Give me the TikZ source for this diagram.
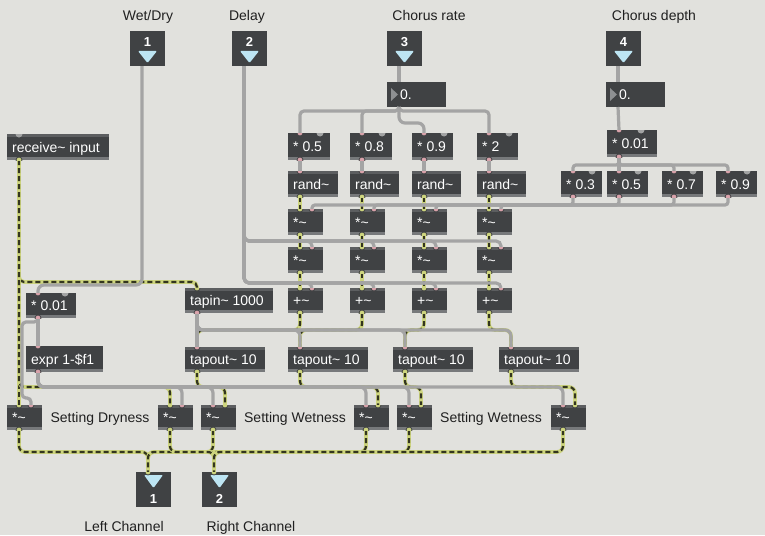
\documentclass[tikz,border=0pt]{standalone}
\usepackage{fontspec}
\setmainfont{Liberation Sans}
\usetikzlibrary{calc}
\definecolor{bgc}{HTML}{E1E1DD}
\definecolor{boxc}{HTML}{404244}
\definecolor{bandc}{HTML}{77797B}
\definecolor{topc}{HTML}{5C5E60}
\definecolor{cordc}{HTML}{A4A4A4}
\definecolor{sigbase}{HTML}{CDD47E}
\definecolor{sigdash}{HTML}{33351F}
\definecolor{tric}{HTML}{BDE5F3}
\definecolor{nbtric}{HTML}{8E9092}
\definecolor{pinkc}{HTML}{D9A3AB}
\definecolor{notchc}{HTML}{A2A3A3}
\definecolor{labc}{HTML}{202020}
\newcommand\mxtl{\textasciitilde}
% name x y w h text
\newcommand\mxobj[6]{%
  \node[objbox, minimum width=#4pt, minimum height=#5pt, anchor=north west] (#1) at (#2,#3) {};
  \fill[bandc] ($(#1.south west)+(0,-3)$) rectangle (#1.south east);
  \node[objtext] (#1-t) at ($(#1.west)+(5,5)$) {#6};
  \coordinate (#1-a) at ($(#1.north west)+(12,0)$);
  \coordinate (#1-b) at ($(#1.north west)+(24,0)$);
  \coordinate (#1-o) at ($(#1.south west)+(12,0)$);
}
\newcommand\mxsig[6]{%
  \mxobj{#1}{#2}{#3}{#4}{#5}{#6}%
  \fill[topc] (#1.north west) rectangle ($(#1.north east)+(0,3)$);
}
% name x y num
\newcommand\mxinlet[4]{%
  \node[objbox, minimum width=35pt, minimum height=35pt, anchor=north west] (#1) at (#2,#3) {};
  \node[numtext] (#1-n) at ($(#1.north)+(0,16)$) {#4};
  \fill[tric, rounded corners=1pt] ($(#1.north west)+(8,20)$) -- ($(#1.north east)+(-8,20)$) -- ($(#1.north)+(0,32)$) -- cycle;
  \coordinate (#1-o) at ($(#1.south west)+(12,0)$);
}
\newcommand\mxoutlet[4]{%
  \node[objbox, minimum width=35pt, minimum height=35pt, anchor=north west] (#1) at (#2,#3) {};
  \fill[tric, rounded corners=1pt] ($(#1.north west)+(8,3)$) -- ($(#1.north east)+(-8,3)$) -- ($(#1.north)+(0,16)$) -- cycle;
  \node[numtext] (#1-n) at ($(#1.north)+(0,31)$) {#4};
  \coordinate (#1-a) at ($(#1.north west)+(12,0)$);
}
\newcommand\mxnumbox[3]{%
  \node[objbox, minimum width=59pt, minimum height=25pt, anchor=north west] (#1) at (#2,#3) {};
  \fill[nbtric] ($(#1.north west)+(4,6)$) -- ($(#1.north west)+(4,19)$) -- ($(#1.north west)+(11,12.5)$) -- cycle;
  \node[objtext] (#1-t) at ($(#1.west)+(13,5)$) {0.};
  \coordinate (#1-a) at ($(#1.north west)+(12,0)$);
  \coordinate (#1-o) at ($(#1.south west)+(12,0)$);
}
% box, coordinate, colour
\newcommand\mxport[3]{%
  \begin{scope}
    \clip (#1.north west) rectangle (#1.south east);
    \filldraw[fill=#3, draw=boxc, line width=0.8pt] (#2) circle[radius=3pt];
  \end{scope}
}
% box, x offset
\newcommand\mxnotch[2]{%
  \begin{scope}
    \clip (#1.north west) rectangle (#1.south east);
    \fill[notchc] ($(#1.north west)+(#2,0)$) circle[radius=3.5pt];
  \end{scope}
}
\begin{document}
\begin{tikzpicture}[x=1pt,y=-1pt,
  objbox/.style={fill=boxc, inner sep=0pt, outer sep=0pt},
  objtext/.style={text=white, font=\fontsize{14}{16}\selectfont, inner sep=0pt, anchor=base west},
  numtext/.style={text=white, font=\bfseries\fontsize{13}{15}\selectfont, inner sep=0pt, anchor=base},
  lab/.style={text=labc, font=\fontsize{14}{16}\selectfont, inner sep=0pt, anchor=base},
  ctrl/.style={draw=cordc, line width=3.2pt, rounded corners=6pt},
  sig/.style={draw=sigdash, line width=2.2pt, dash pattern=on 5pt off 3pt, rounded corners=6pt,
              preaction={draw=sigbase, line width=3.8pt, solid}}]
\useasboundingbox (0,0) rectangle (765,535);
\fill[bgc] (0,0) rectangle (765,535);

% labels
\node[lab] (lwet) at (148,21) {Wet/Dry};
\node[lab] (ldel) at (247,21) {Delay};
\node[lab] (lrate) at (429,21) {Chorus rate};
\node[lab] (ldepth) at (654,21) {Chorus depth};
\node[lab] (ldry) at (100,422) {Setting Dryness};
\node[lab] (lwetA) at (295,422) {Setting Wetness};
\node[lab] (lwetB) at (491,422) {Setting Wetness};
\node[lab] (lleft) at (124,531) {Left Channel};
\node[lab] (lright) at (251,531) {Right Channel};

% objects
\mxinlet{in1}{130}{31}{1}
\mxinlet{in2}{232}{31}{2}
\mxinlet{in3}{387}{31}{3}
\mxinlet{in4}{606}{31}{4}
\mxnumbox{nb3}{387}{82}
\mxnumbox{nb4}{606}{82}
\mxsig{rcv}{7}{134}{102}{26}{receive\mxtl{} input}
\mxobj{q1}{288}{133}{42}{27}{* 0.5}
\mxobj{q2}{350}{133}{42}{27}{* 0.8}
\mxobj{q3}{412}{133}{41}{27}{* 0.9}
\mxobj{q4}{477}{133}{41}{27}{* 2}
\mxsig{rd1}{288}{171}{50}{26}{rand\mxtl}
\mxsig{rd2}{350}{171}{49}{26}{rand\mxtl}
\mxsig{rd3}{412}{171}{49}{26}{rand\mxtl}
\mxsig{rd4}{477}{171}{49}{26}{rand\mxtl}
\mxobj{dm}{607}{130}{50}{27}{* 0.01}
\mxobj{s1}{561}{171}{41}{26}{* 0.3}
\mxobj{s2}{607}{171}{41}{26}{* 0.5}
\mxobj{s3}{662}{171}{41}{26}{* 0.7}
\mxobj{s4}{716}{171}{41}{26}{* 0.9}
\mxsig{ra1}{288}{209}{35}{26}{*\mxtl}
\mxsig{ra2}{350}{209}{35}{26}{*\mxtl}
\mxsig{ra3}{412}{209}{35}{26}{*\mxtl}
\mxsig{ra4}{477}{209}{35}{26}{*\mxtl}
\mxsig{rb1}{288}{247}{35}{26}{*\mxtl}
\mxsig{rb2}{350}{247}{35}{26}{*\mxtl}
\mxsig{rb3}{412}{247}{35}{26}{*\mxtl}
\mxsig{rb4}{477}{247}{35}{26}{*\mxtl}
\mxsig{p1}{288}{288}{35}{25}{+\mxtl}
\mxsig{p2}{350}{288}{35}{25}{+\mxtl}
\mxsig{p3}{412}{288}{35}{25}{+\mxtl}
\mxsig{p4}{477}{288}{35}{25}{+\mxtl}
\mxsig{tin}{185}{288}{88}{25}{tapin\mxtl{} 1000}
\mxobj{wm}{26}{293}{50}{25}{* 0.01}
\mxobj{ex}{26}{346}{77}{26}{expr 1-\$f1}
\mxsig{to1}{185}{347}{80}{25}{tapout\mxtl{} 10}
\mxsig{to2}{288}{347}{80}{25}{tapout\mxtl{} 10}
\mxsig{to3}{393}{347}{80}{25}{tapout\mxtl{} 10}
\mxsig{to4}{499}{347}{80}{25}{tapout\mxtl{} 10}
\mxsig{D1}{7}{405}{35}{25}{*\mxtl}
\mxsig{D2}{158}{405}{35}{25}{*\mxtl}
\mxsig{W1}{201}{405}{35}{25}{*\mxtl}
\mxsig{W2}{354}{405}{35}{25}{*\mxtl}
\mxsig{W3}{397}{405}{35}{25}{*\mxtl}
\mxsig{W4}{551}{405}{35}{25}{*\mxtl}
\mxoutlet{out1}{136}{472}{1}
\mxoutlet{out2}{202}{472}{2}

% signal cords
\draw[sig, rounded corners=5pt] (rcv-o) -- ++(0,122) -| (tin-a);
\draw[sig] (rcv-o) -- (D1-a);
\draw[sig] (rcv-o) -- ++(0,227) -| (D2-a);
\foreach \i in {1,2,3,4}{
  \draw[sig] (rd\i-o) -- (ra\i-a);
  \draw[sig] (ra\i-o) -- (rb\i-a);
  \draw[sig] (rb\i-o) -- (p\i-a);
  \draw[sig] (p\i-o) -- ++(0,17) -| (to\i-a);
  \draw[sig] (to\i-o) -- ++(0,15) -| (W\i-b);
}
\draw[sig] (D1-o) -- ++(0,22) -| (out1-a);
\draw[sig] (W1-o) -- ++(0,22) -| (out1-a);
\draw[sig] (W3-o) -- ++(0,22) -| (out1-a);
\draw[sig] (D2-o) -- ++(0,22) -| (out2-a);
\draw[sig] (W2-o) -- ++(0,22) -| (out2-a);
\draw[sig] (W4-o) -- ++(0,22) -| (out2-a);

% control cords
\draw[ctrl, rounded corners=6pt] (in1-o) -- ++(0,219) -| (wm-a);
\foreach \i in {1,2,3,4}{
  \draw[ctrl, rounded corners=5pt] (in2-o) -- ++(0,175) -| (rb\i-b);
  \draw[ctrl, rounded corners=5pt] (in2-o) -- ++(0,217) -| (p\i-b);
}
\draw[ctrl] (in3-o) -- (nb3-a);
\foreach \i in {1,2,4}{\draw[ctrl, rounded corners=4pt] (nb3-o) -- ++(0,4) -| (q\i-a);}
\draw[ctrl] (nb3-o) -- ++(0,16) -| (q3-a);
\draw[ctrl] (in4-o) -- (nb4-a);
\draw[ctrl] (nb4-o) -- (dm-a);
\foreach \i in {1,2,3,4}{
  \draw[ctrl] (q\i-o) -- (rd\i-a);
  \draw[ctrl, rounded corners=3pt] (dm-o) -- ++(0,8) -| (s\i-a);
  \draw[ctrl, rounded corners=3pt] (s\i-o) -- ++(0,8) -| (ra\i-b);
}
\draw[ctrl] (tin-o) -- (to1-a);
\foreach \i in {2,3,4}{\draw[ctrl] (tin-o) -- ++(0,17) -| (to\i-a);}
\draw[ctrl] (wm-o) -- (ex-a);
\draw[ctrl, rounded corners=4pt] (wm-o) -- ++(0,4) -- ++(-16,0) -- ++(0,76) -| (D1-b);
\draw[ctrl] (ex-o) -- ++(0,15) -| (D2-b);
\foreach \i in {1,2,3,4}{\draw[ctrl] (ex-o) -- ++(0,15) -| (W\i-a);}

% ports
\foreach \i in {1,2,3,4}{
  \mxport{q\i}{q\i-a}{pinkc}\mxport{q\i}{q\i-o}{pinkc}
  \mxport{rd\i}{rd\i-a}{pinkc}\mxport{rd\i}{rd\i-o}{sigbase}
  \mxport{ra\i}{ra\i-a}{sigbase}\mxport{ra\i}{ra\i-b}{pinkc}\mxport{ra\i}{ra\i-o}{sigbase}
  \mxport{rb\i}{rb\i-a}{sigbase}\mxport{rb\i}{rb\i-b}{pinkc}\mxport{rb\i}{rb\i-o}{sigbase}
  \mxport{p\i}{p\i-a}{sigbase}\mxport{p\i}{p\i-b}{pinkc}\mxport{p\i}{p\i-o}{sigbase}
  \mxport{s\i}{s\i-a}{pinkc}\mxport{s\i}{s\i-o}{pinkc}
  \mxport{to\i}{to\i-a}{pinkc}\mxport{to\i}{to\i-o}{sigbase}
  \mxport{W\i}{W\i-a}{pinkc}\mxport{W\i}{W\i-b}{sigbase}\mxport{W\i}{W\i-o}{sigbase}
  \mxnotch{q\i}{32}
  \mxnotch{s\i}{31}
}
\mxport{dm}{dm-a}{pinkc}\mxport{dm}{dm-o}{pinkc}\mxnotch{dm}{34}
\mxport{wm}{wm-a}{pinkc}\mxport{wm}{wm-o}{pinkc}\mxnotch{wm}{39}
\mxport{ex}{ex-a}{pinkc}\mxport{ex}{ex-o}{pinkc}
\mxport{rcv}{rcv-o}{sigbase}\mxnotch{rcv}{12}
\mxport{tin}{tin-a}{sigbase}\mxport{tin}{tin-o}{pinkc}
\mxport{D1}{D1-a}{sigbase}\mxport{D1}{D1-b}{pinkc}\mxport{D1}{D1-o}{sigbase}
\mxport{D2}{D2-a}{sigbase}\mxport{D2}{D2-b}{pinkc}\mxport{D2}{D2-o}{sigbase}
\mxport{out1}{out1-a}{sigbase}
\mxport{out2}{out2-a}{sigbase}
\end{tikzpicture}
\end{document}
